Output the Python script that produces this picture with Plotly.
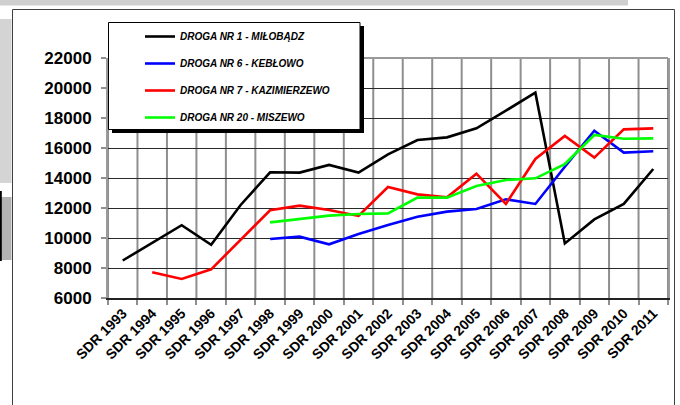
import plotly.graph_objects as go

years = [str(y) for y in range(1993, 2012)]
categories = ["SDR " + y for y in years]

droga_1 = [8500, 9650, 10850, 9550, 12200, 14380, 14360, 14870, 14360, 15580,
           16530, 16710, 17310, 18490, 19690, 9640, 11240, 12270, 14600]
droga_6 = [None, None, None, None, None, 9930, 10090, 9580, 10270, 10870,
           11420, 11760, 11930, 12580, 12270, 14750, 17150, 15690, 15780]
droga_7 = [None, 7710, 7270, 7910, 9900, 11850, 12160, 11870, 11470, 13400,
           12910, 12710, 14290, 12270, 15270, 16800, 15360, 17240, 17310]
droga_20 = [None, None, None, None, None, 11040, 11240, 11490, 11600, 11640,
            12690, 12690, 13470, 13870, 13980, 14930, 16870, 16620, 16640]

series_names = ["DROGA NR 1 - MIŁOBĄDZ", "DROGA NR 6 - KEBŁOWO",
                "DROGA NR 7 - KAZIMIERZEWO", "DROGA NR 20 - MISZEWO"]
series_values = [droga_1, droga_6, droga_7, droga_20]
series_colors = ["#000000", "#0000ff", "#ff0000", "#00ff00"]

y_ticks = list(range(6000, 22001, 2000))

W, H = 680, 405
L, R, T, B = 108, 12, 58, 107
PW, PH = W - L - R, H - T - B


def px(x):
    return (x - L) / PW


def py(y):
    return (H - B - y) / PH


cat_pos = list(range(len(categories)))
boundaries = [i - 0.5 for i in range(len(categories) + 1)]

fig = go.Figure()
for i, (name, vals, col) in enumerate(zip(series_names, series_values, series_colors)):
    fig.add_trace(go.Scatter(
        x=cat_pos, y=vals, name=name, mode="lines",
        line=dict(color=col, width=2.6), connectgaps=False,
        legendgroup="g%d" % i,
    ))

shapes = []
# decorative background elements
shapes.append(dict(type="rect", xref="paper", yref="paper", x0=px(0), x1=px(628),
                   y0=py(0), y1=py(5.5), fillcolor="#cfcfcf", line=dict(width=0), layer="below"))
shapes.append(dict(type="rect", xref="paper", yref="paper", x0=px(0), x1=px(11.5),
                   y0=py(19), y1=py(183), fillcolor="#d4d4d4", line=dict(width=0), layer="below"))
shapes.append(dict(type="rect", xref="paper", yref="paper", x0=px(0), x1=px(11.5),
                   y0=py(197), y1=py(260), fillcolor="#b3b3b3", line=dict(width=0), layer="below"))
shapes.append(dict(type="rect", xref="paper", yref="paper", x0=px(0), x1=px(1.8),
                   y0=py(191), y1=py(261), fillcolor="#000000", line=dict(width=0), layer="below"))
shapes.append(dict(type="rect", xref="paper", yref="paper", x0=px(12.5), x1=px(674.5),
                   y0=py(9.5), y1=py(420), fillcolor="rgba(0,0,0,0)",
                   line=dict(color="#404040", width=1), layer="below"))
# vertical grid lines at category boundaries
for b in boundaries:
    shapes.append(dict(type="line", xref="x", yref="paper", x0=b, x1=b, y0=0, y1=1,
                       line=dict(color="#8f8f8f", width=2), layer="below"))
# top border of plot area
shapes.append(dict(type="line", xref="paper", yref="paper", x0=0, x1=1, y0=1, y1=1,
                   line=dict(color="#9a9a9a", width=2), layer="above"))
# legend box with shadow
shapes.append(dict(type="rect", xref="paper", yref="paper", x0=px(112), x1=px(364),
                   y0=py(26), y1=py(133), fillcolor="#000000", line=dict(width=0), layer="above"))
shapes.append(dict(type="rect", xref="paper", yref="paper", x0=px(108.5), x1=px(360),
                   y0=py(22.5), y1=py(129.5), fillcolor="#ffffff",
                   line=dict(color="#000000", width=1), layer="above"))

fig.update_layout(
    width=W, height=H,
    margin=dict(l=L, r=R, t=T, b=B, autoexpand=False),
    paper_bgcolor="#ffffff", plot_bgcolor="rgba(0,0,0,0)",
    shapes=shapes,
    showlegend=True,
    legend=dict(
        x=px(140), y=py(22), xanchor="left", yanchor="top",
        bgcolor="rgba(0,0,0,0)", borderwidth=0,
        font=dict(family="Arial, Liberation Sans, sans-serif", size=10,
                  color="#000000", weight="bold", style="italic"),
        tracegroupgap=8, traceorder="grouped",
    ),
    xaxis=dict(
        range=[-0.5, len(categories) - 0.5],
        tickvals=cat_pos, ticktext=categories,
        showgrid=False, ticks="",
        minor=dict(tickvals=boundaries, showgrid=False, ticks="outside", ticklen=5,
                   tickcolor="#8f8f8f", tickwidth=1.5),
        showline=True, linecolor="#222222", linewidth=1.5,
        tickangle=-45,
        tickfont=dict(family="Arial, Liberation Sans, sans-serif", size=14,
                      color="#000000", weight="bold"),
        zeroline=False, fixedrange=True,
    ),
    yaxis=dict(
        range=[6000, 22000], tickvals=y_ticks,
        ticktext=[str(v) for v in y_ticks],
        showgrid=True, gridcolor="#2a2a2a", gridwidth=1,
        ticks="outside", ticklen=5, tickcolor="#8f8f8f", tickwidth=1.5,
        showline=True, linecolor="#9a9a9a", linewidth=2, mirror=True,
        ticklabelstandoff=6,
        tickfont=dict(family="Arial, Liberation Sans, sans-serif", size=17,
                      color="#000000", weight="bold"),
        zeroline=False, fixedrange=True,
    ),
)

fig.write_html("out.html",
               config={"displayModeBar": False},
               post_script="document.body.style.margin='0px';document.body.style.padding='0px';")
